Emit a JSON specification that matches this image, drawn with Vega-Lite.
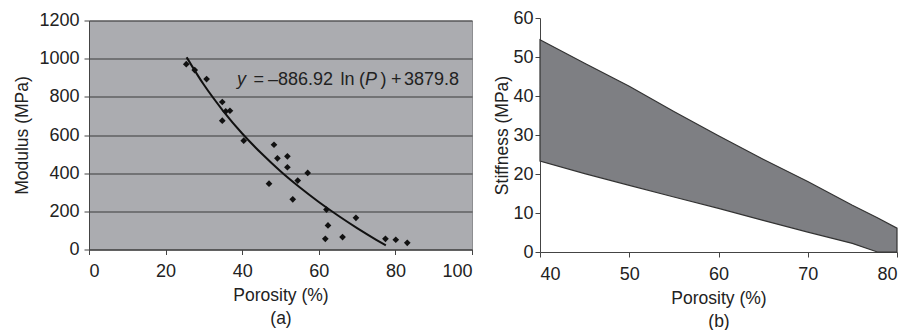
{
  "$schema": "https://vega.github.io/schema/vega-lite/v6.json",
  "background": "white",
  "padding": {"left": 13, "top": 9, "right": 4, "bottom": 0},
  "bounds": "flush",
  "center": true,
  "spacing": 68,
  "config": {
    "font": "Liberation Sans",
    "axis": {
      "labelFont": "Liberation Sans", "titleFont": "Liberation Sans",
      "labelFontSize": 18, "titleFontSize": 17.5, "titleFontWeight": "normal",
      "labelColor": "#222", "titleColor": "#222",
      "domainColor": "#444", "tickColor": "#444", "tickSize": 5,
      "labelPadding": 3, "titleLineHeight": 23, "labelOverlap": false, "format": "d", "tickCount": 10
    },
    "view": {"stroke": null}
  },
  "datasets": {
    "pts": [
      {"P": 25.4, "E": 971}, {"P": 27.6, "E": 940}, {"P": 30.7, "E": 893},
      {"P": 34.8, "E": 773}, {"P": 35.7, "E": 724}, {"P": 36.8, "E": 727},
      {"P": 34.8, "E": 675}, {"P": 40.4, "E": 570}, {"P": 48.3, "E": 549},
      {"P": 49.2, "E": 478}, {"P": 51.8, "E": 488}, {"P": 51.8, "E": 431},
      {"P": 47.0, "E": 345}, {"P": 54.5, "E": 361}, {"P": 57.1, "E": 401},
      {"P": 53.2, "E": 263}, {"P": 62.0, "E": 209}, {"P": 62.4, "E": 126},
      {"P": 61.7, "E": 56}, {"P": 66.2, "E": 65}, {"P": 69.7, "E": 166},
      {"P": 77.4, "E": 56}, {"P": 80.1, "E": 51}, {"P": 83.1, "E": 35}
    ],
    "fit": [
      {"P": 25.5, "E": 1007}, {"P": 30, "E": 863}, {"P": 35, "E": 727},
      {"P": 40, "E": 608}, {"P": 45, "E": 504}, {"P": 50, "E": 410},
      {"P": 55, "E": 326}, {"P": 60, "E": 249}, {"P": 65, "E": 178},
      {"P": 70, "E": 112}, {"P": 75, "E": 51}, {"P": 77.5, "E": 22}
    ],
    "eq": [
      {"P": 38.64, "E": 887, "label": "y", "kind": "var"},
      {"P": 42.95, "E": 887, "label": "=", "kind": "num"},
      {"P": 46.74, "E": 887, "label": "\u2013886.92", "kind": "num"},
      {"P": 65.67, "E": 887, "label": "ln", "kind": "num"},
      {"P": 70.5, "E": 887, "label": "(", "kind": "num"},
      {"P": 72.06, "E": 887, "label": "P", "kind": "var"},
      {"P": 76.11, "E": 887, "label": ")", "kind": "num"},
      {"P": 78.85, "E": 887, "label": "+", "kind": "num"},
      {"P": 82.25, "E": 887, "label": "3879.8", "kind": "num"}
    ],
    "band": [
      {"P": 40, "upper": 54.4, "lower": 23.3},
      {"P": 45, "upper": 48.4, "lower": 20.1},
      {"P": 50, "upper": 42.5, "lower": 17.1},
      {"P": 55, "upper": 36.0, "lower": 14.1},
      {"P": 60, "upper": 29.8, "lower": 11.2},
      {"P": 65, "upper": 23.8, "lower": 8.1},
      {"P": 70, "upper": 18.1, "lower": 5.1},
      {"P": 75, "upper": 12.0, "lower": 2.2},
      {"P": 77.8, "upper": 8.8, "lower": 0},
      {"P": 80, "upper": 6.1, "lower": 0}
    ]
  },
  "hconcat": [
    {
      "width": 383, "height": 229,
      "view": {"fill": "#abacb0", "stroke": "#8d8e91"},
      "layer": [
        {
          "data": {"name": "pts"},
          "mark": {"type": "point", "shape": "diamond", "filled": true, "size": 45, "color": "#111", "opacity": 1},
          "encoding": {
            "x": {"field": "P", "type": "quantitative",
                  "scale": {"domain": [0, 100], "nice": false},
                  "axis": {"values": [0, 20, 40, 60, 80, 100], "grid": false, "title": ["Porosity (%)", "(a)"], "labelPadding": 8, "titlePadding": 6}},
            "y": {"field": "E", "type": "quantitative",
                  "scale": {"domain": [0, 1200], "nice": false},
                  "axis": {"values": [0, 200, 400, 600, 800, 1000, 1200], "tickCount": 10, "grid": true, "gridColor": "#3a3a3a", "gridWidth": 1.2, "title": "Modulus (MPa)", "labelPadding": 5, "titlePadding": 7}}
          }
        },
        {
          "data": {"name": "fit"},
          "mark": {"type": "line", "color": "#111", "strokeWidth": 2, "interpolate": "monotone"},
          "encoding": {
            "x": {"field": "P", "type": "quantitative"},
            "y": {"field": "E", "type": "quantitative"}
          }
        },
        {
          "data": {"name": "eq"},
          "transform": [{"filter": "datum.kind == 'var'"}],
          "mark": {"type": "text", "align": "left", "baseline": "middle", "fontSize": 18, "fontStyle": "italic", "color": "#222", "font": "Liberation Sans"},
          "encoding": {
            "x": {"field": "P", "type": "quantitative"},
            "y": {"field": "E", "type": "quantitative"},
            "text": {"field": "label"}
          }
        },
        {
          "data": {"name": "eq"},
          "transform": [{"filter": "datum.kind == 'num'"}],
          "mark": {"type": "text", "align": "left", "baseline": "middle", "fontSize": 18, "color": "#222", "font": "Liberation Sans"},
          "encoding": {
            "x": {"field": "P", "type": "quantitative"},
            "y": {"field": "E", "type": "quantitative"},
            "text": {"field": "label"}
          }
        }
      ]
    },
    {
      "width": 357, "height": 234,
      "data": {"name": "band"},
      "layer": [
        {
          "mark": {"type": "area", "color": "#7e7f83", "opacity": 1, "stroke": "#333", "strokeWidth": 1.2},
          "encoding": {
            "x": {"field": "P", "type": "quantitative",
                  "scale": {"domain": [40, 80], "nice": false},
                  "axis": {"values": [40, 50, 60, 70, 80], "grid": false, "title": ["Porosity (%)", "(b)"], "labelPadding": 8, "titlePadding": 6}},
            "y": {"field": "upper", "type": "quantitative",
                  "scale": {"domain": [0, 60], "nice": false},
                  "axis": {"values": [0, 10, 20, 30, 40, 50, 60], "tickCount": 10, "grid": false, "title": "Stiffness (MPa)", "labelPadding": 2, "titlePadding": 1}},
            "y2": {"field": "lower"}
          }
        }
      ]
    }
  ]
}
